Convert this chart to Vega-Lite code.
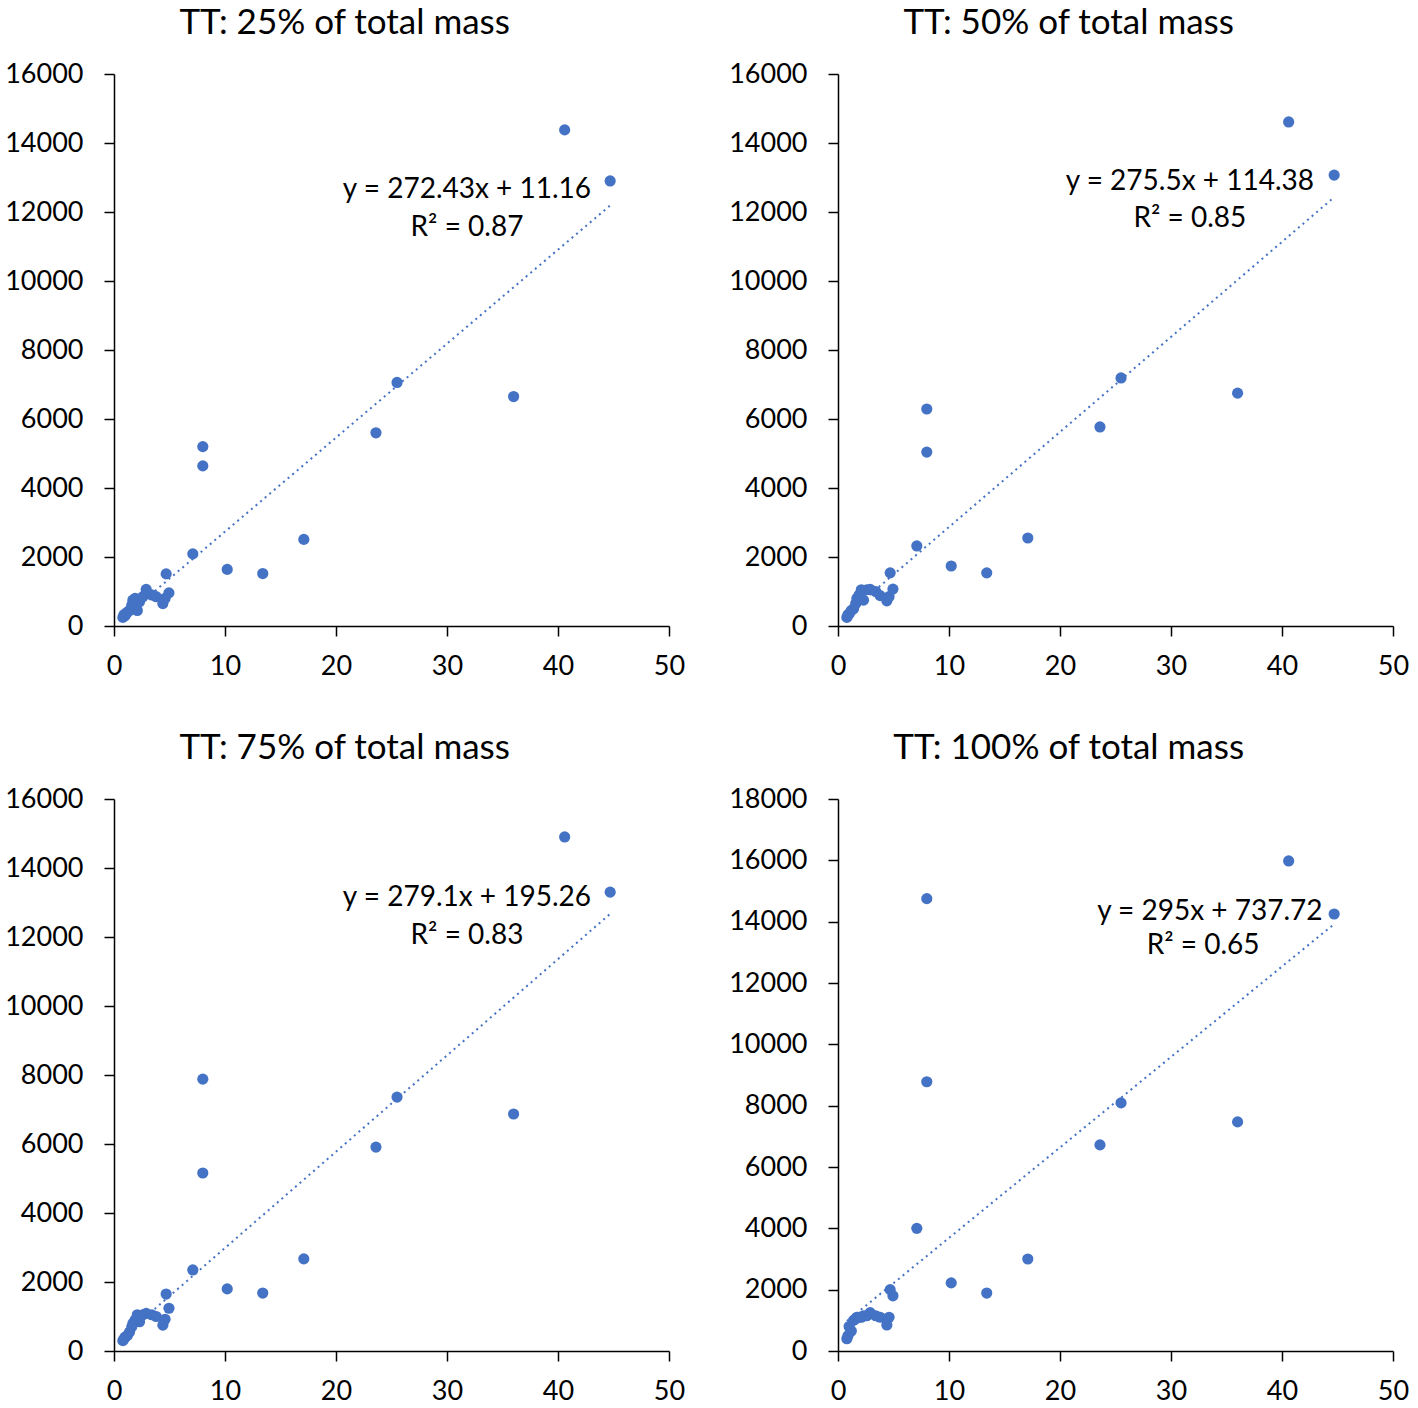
{
  "$schema": "https://vega.github.io/schema/vega-lite/v6.json",
  "padding": {"left": 4, "top": 6, "right": 5, "bottom": 0},
  "background": "white",
  "columns": 2,
  "bounds": "flush",
  "spacing": {"row": 173, "column": 169},
  "config": {
    "view": {"stroke": null},
    "font": "Lato",
    "title": {"font": "Lato", "fontSize": 35, "fontWeight": "normal", "color": "black", "frame": "bounds", "anchor": "middle", "baseline": "alphabetic", "offset": 19},
    "axis": {"grid": false, "domainColor": "black", "domainWidth": 1.5, "tickColor": "black", "tickWidth": 1.5, "tickSize": 10, "labelFont": "Lato", "labelFontSize": 27, "labelColor": "black", "labelPadding": 21, "title": null, "labelFlush": false, "labelOverlap": false},
    "axisX": {"labelPadding": 17}
  },
  "datasets": {
    "points": [
      {"p": "25", "x": 0.8, "y": 250}, {"p": "25", "x": 0.9, "y": 330}, {"p": "25", "x": 1.0, "y": 300}, {"p": "25", "x": 1.2, "y": 400}, {"p": "25", "x": 1.4, "y": 450}, {"p": "25", "x": 1.6, "y": 600}, {"p": "25", "x": 1.7, "y": 750}, {"p": "25", "x": 1.9, "y": 800}, {"p": "25", "x": 2.1, "y": 450}, {"p": "25", "x": 2.3, "y": 700}, {"p": "25", "x": 2.6, "y": 850}, {"p": "25", "x": 2.9, "y": 1060}, {"p": "25", "x": 3.4, "y": 900}, {"p": "25", "x": 3.8, "y": 850}, {"p": "25", "x": 4.4, "y": 650}, {"p": "25", "x": 4.6, "y": 800}, {"p": "25", "x": 4.95, "y": 960},
      {"p": "25", "x": 4.7, "y": 1510}, {"p": "25", "x": 7.1, "y": 2090}, {"p": "25", "x": 8.0, "y": 5200}, {"p": "25", "x": 8.0, "y": 4640}, {"p": "25", "x": 10.2, "y": 1640}, {"p": "25", "x": 13.4, "y": 1520}, {"p": "25", "x": 17.1, "y": 2510}, {"p": "25", "x": 23.6, "y": 5600}, {"p": "25", "x": 25.5, "y": 7060}, {"p": "25", "x": 36.0, "y": 6650}, {"p": "25", "x": 40.6, "y": 14380}, {"p": "25", "x": 44.7, "y": 12900},
      {"p": "50", "x": 0.8, "y": 250}, {"p": "50", "x": 0.9, "y": 330}, {"p": "50", "x": 1.0, "y": 350}, {"p": "50", "x": 1.2, "y": 450}, {"p": "50", "x": 1.4, "y": 500}, {"p": "50", "x": 1.6, "y": 650}, {"p": "50", "x": 1.7, "y": 800}, {"p": "50", "x": 1.9, "y": 900}, {"p": "50", "x": 2.1, "y": 1050}, {"p": "50", "x": 2.3, "y": 750}, {"p": "50", "x": 2.6, "y": 1050}, {"p": "50", "x": 2.9, "y": 1060}, {"p": "50", "x": 3.4, "y": 1000}, {"p": "50", "x": 3.8, "y": 880}, {"p": "50", "x": 4.4, "y": 730}, {"p": "50", "x": 4.6, "y": 850}, {"p": "50", "x": 4.95, "y": 1070},
      {"p": "50", "x": 4.7, "y": 1540}, {"p": "50", "x": 7.1, "y": 2320}, {"p": "50", "x": 8.0, "y": 6290}, {"p": "50", "x": 8.0, "y": 5040}, {"p": "50", "x": 10.2, "y": 1740}, {"p": "50", "x": 13.4, "y": 1540}, {"p": "50", "x": 17.1, "y": 2550}, {"p": "50", "x": 23.6, "y": 5770}, {"p": "50", "x": 25.5, "y": 7190}, {"p": "50", "x": 36.0, "y": 6750}, {"p": "50", "x": 40.6, "y": 14610}, {"p": "50", "x": 44.7, "y": 13070},
      {"p": "75", "x": 0.8, "y": 300}, {"p": "75", "x": 0.9, "y": 350}, {"p": "75", "x": 1.0, "y": 400}, {"p": "75", "x": 1.2, "y": 450}, {"p": "75", "x": 1.4, "y": 550}, {"p": "75", "x": 1.6, "y": 700}, {"p": "75", "x": 1.7, "y": 800}, {"p": "75", "x": 1.9, "y": 900}, {"p": "75", "x": 2.1, "y": 1050}, {"p": "75", "x": 2.3, "y": 850}, {"p": "75", "x": 2.6, "y": 1050}, {"p": "75", "x": 2.9, "y": 1090}, {"p": "75", "x": 3.4, "y": 1050}, {"p": "75", "x": 3.8, "y": 1000}, {"p": "75", "x": 4.4, "y": 750}, {"p": "75", "x": 4.6, "y": 920}, {"p": "75", "x": 4.95, "y": 1240},
      {"p": "75", "x": 4.7, "y": 1650}, {"p": "75", "x": 7.1, "y": 2350}, {"p": "75", "x": 8.0, "y": 7880}, {"p": "75", "x": 8.0, "y": 5160}, {"p": "75", "x": 10.2, "y": 1800}, {"p": "75", "x": 13.4, "y": 1680}, {"p": "75", "x": 17.1, "y": 2670}, {"p": "75", "x": 23.6, "y": 5910}, {"p": "75", "x": 25.5, "y": 7360}, {"p": "75", "x": 36.0, "y": 6870}, {"p": "75", "x": 40.6, "y": 14900}, {"p": "75", "x": 44.7, "y": 13300},
      {"p": "100", "x": 0.8, "y": 400}, {"p": "100", "x": 0.9, "y": 500}, {"p": "100", "x": 1.0, "y": 800}, {"p": "100", "x": 1.2, "y": 650}, {"p": "100", "x": 1.4, "y": 1000}, {"p": "100", "x": 1.6, "y": 1050}, {"p": "100", "x": 1.7, "y": 1100}, {"p": "100", "x": 1.9, "y": 1100}, {"p": "100", "x": 2.1, "y": 1100}, {"p": "100", "x": 2.3, "y": 1150}, {"p": "100", "x": 2.6, "y": 1150}, {"p": "100", "x": 2.9, "y": 1250}, {"p": "100", "x": 3.4, "y": 1150}, {"p": "100", "x": 3.8, "y": 1100}, {"p": "100", "x": 4.4, "y": 850}, {"p": "100", "x": 4.6, "y": 1100}, {"p": "100", "x": 4.95, "y": 1800},
      {"p": "100", "x": 4.7, "y": 2000}, {"p": "100", "x": 7.1, "y": 4000}, {"p": "100", "x": 8.0, "y": 14750}, {"p": "100", "x": 8.0, "y": 8780}, {"p": "100", "x": 10.2, "y": 2220}, {"p": "100", "x": 13.4, "y": 1890}, {"p": "100", "x": 17.1, "y": 3000}, {"p": "100", "x": 23.6, "y": 6720}, {"p": "100", "x": 25.5, "y": 8090}, {"p": "100", "x": 36.0, "y": 7470}, {"p": "100", "x": 40.6, "y": 15980}, {"p": "100", "x": 44.7, "y": 14250}
    ],
    "trend": [
      {"p": "25", "x": 0.8, "y": 229.1}, {"p": "25", "x": 44.7, "y": 12188.8},
      {"p": "50", "x": 0.8, "y": 334.8}, {"p": "50", "x": 44.7, "y": 12429.2},
      {"p": "75", "x": 0.8, "y": 418.5}, {"p": "75", "x": 44.7, "y": 12671.0},
      {"p": "100", "x": 0.8, "y": 973.7}, {"p": "100", "x": 44.7, "y": 13924.2}
    ],
    "labels": [
      {"p": "25", "x": 31.8, "y": 12640, "t": "y = 272.43x + 11.16"}, {"p": "25", "x": 31.8, "y": 11540, "t": "R² = 0.87"},
      {"p": "50", "x": 31.7, "y": 12870, "t": "y = 275.5x + 114.38"}, {"p": "50", "x": 31.7, "y": 11800, "t": "R² = 0.85"},
      {"p": "75", "x": 31.8, "y": 13130, "t": "y = 279.1x + 195.26"}, {"p": "75", "x": 31.8, "y": 12030, "t": "R² = 0.83"},
      {"p": "100", "x": 33.5, "y": 14310, "t": "y = 295x + 737.72"}, {"p": "100", "x": 32.9, "y": 13200, "t": "R² = 0.65"}
    ]
  },
  "concat": [
    {
      "width": 555, "height": 552,
      "title": "TT: 25% of total mass",
      "layer": [
        {"data": {"name": "points"}, "transform": [{"filter": "datum.p == '25'"}], "mark": {"type": "circle", "size": 125, "color": "#4472C4", "opacity": 1},
         "encoding": {"x": {"field": "x", "type": "quantitative", "scale": {"domain": [0, 50], "nice": false}, "axis": {"values": [0, 10, 20, 30, 40, 50]}},
                      "y": {"field": "y", "type": "quantitative", "scale": {"domain": [0, 16000], "nice": false}, "axis": {"values": [0, 2000, 4000, 6000, 8000, 10000, 12000, 14000, 16000], "format": "d"}}}},
        {"data": {"name": "trend"}, "transform": [{"filter": "datum.p == '25'"}], "mark": {"type": "line", "color": "#4472C4", "strokeWidth": 2, "strokeDash": [2, 4]},
         "encoding": {"x": {"field": "x", "type": "quantitative"}, "y": {"field": "y", "type": "quantitative"}}},
        {"data": {"name": "labels"}, "transform": [{"filter": "datum.p == '25'"}], "mark": {"type": "text", "fontSize": 28, "font": "Lato", "color": "black"},
         "encoding": {"x": {"field": "x", "type": "quantitative"}, "y": {"field": "y", "type": "quantitative"}, "text": {"field": "t"}}}
      ]
    },
    {
      "width": 555, "height": 552,
      "title": "TT: 50% of total mass",
      "layer": [
        {"data": {"name": "points"}, "transform": [{"filter": "datum.p == '50'"}], "mark": {"type": "circle", "size": 125, "color": "#4472C4", "opacity": 1},
         "encoding": {"x": {"field": "x", "type": "quantitative", "scale": {"domain": [0, 50], "nice": false}, "axis": {"values": [0, 10, 20, 30, 40, 50]}},
                      "y": {"field": "y", "type": "quantitative", "scale": {"domain": [0, 16000], "nice": false}, "axis": {"values": [0, 2000, 4000, 6000, 8000, 10000, 12000, 14000, 16000], "format": "d"}}}},
        {"data": {"name": "trend"}, "transform": [{"filter": "datum.p == '50'"}], "mark": {"type": "line", "color": "#4472C4", "strokeWidth": 2, "strokeDash": [2, 4]},
         "encoding": {"x": {"field": "x", "type": "quantitative"}, "y": {"field": "y", "type": "quantitative"}}},
        {"data": {"name": "labels"}, "transform": [{"filter": "datum.p == '50'"}], "mark": {"type": "text", "fontSize": 28, "font": "Lato", "color": "black"},
         "encoding": {"x": {"field": "x", "type": "quantitative"}, "y": {"field": "y", "type": "quantitative"}, "text": {"field": "t"}}}
      ]
    },
    {
      "width": 555, "height": 552,
      "title": "TT: 75% of total mass",
      "layer": [
        {"data": {"name": "points"}, "transform": [{"filter": "datum.p == '75'"}], "mark": {"type": "circle", "size": 125, "color": "#4472C4", "opacity": 1},
         "encoding": {"x": {"field": "x", "type": "quantitative", "scale": {"domain": [0, 50], "nice": false}, "axis": {"values": [0, 10, 20, 30, 40, 50]}},
                      "y": {"field": "y", "type": "quantitative", "scale": {"domain": [0, 16000], "nice": false}, "axis": {"values": [0, 2000, 4000, 6000, 8000, 10000, 12000, 14000, 16000], "format": "d"}}}},
        {"data": {"name": "trend"}, "transform": [{"filter": "datum.p == '75'"}], "mark": {"type": "line", "color": "#4472C4", "strokeWidth": 2, "strokeDash": [2, 4]},
         "encoding": {"x": {"field": "x", "type": "quantitative"}, "y": {"field": "y", "type": "quantitative"}}},
        {"data": {"name": "labels"}, "transform": [{"filter": "datum.p == '75'"}], "mark": {"type": "text", "fontSize": 28, "font": "Lato", "color": "black"},
         "encoding": {"x": {"field": "x", "type": "quantitative"}, "y": {"field": "y", "type": "quantitative"}, "text": {"field": "t"}}}
      ]
    },
    {
      "width": 555, "height": 552,
      "title": "TT: 100% of total mass",
      "layer": [
        {"data": {"name": "points"}, "transform": [{"filter": "datum.p == '100'"}], "mark": {"type": "circle", "size": 125, "color": "#4472C4", "opacity": 1},
         "encoding": {"x": {"field": "x", "type": "quantitative", "scale": {"domain": [0, 50], "nice": false}, "axis": {"values": [0, 10, 20, 30, 40, 50]}},
                      "y": {"field": "y", "type": "quantitative", "scale": {"domain": [0, 18000], "nice": false}, "axis": {"values": [0, 2000, 4000, 6000, 8000, 10000, 12000, 14000, 16000, 18000], "format": "d"}}}},
        {"data": {"name": "trend"}, "transform": [{"filter": "datum.p == '100'"}], "mark": {"type": "line", "color": "#4472C4", "strokeWidth": 2, "strokeDash": [2, 4]},
         "encoding": {"x": {"field": "x", "type": "quantitative"}, "y": {"field": "y", "type": "quantitative"}}},
        {"data": {"name": "labels"}, "transform": [{"filter": "datum.p == '100'"}], "mark": {"type": "text", "fontSize": 28, "font": "Lato", "color": "black"},
         "encoding": {"x": {"field": "x", "type": "quantitative"}, "y": {"field": "y", "type": "quantitative"}, "text": {"field": "t"}}}
      ]
    }
  ]
}
